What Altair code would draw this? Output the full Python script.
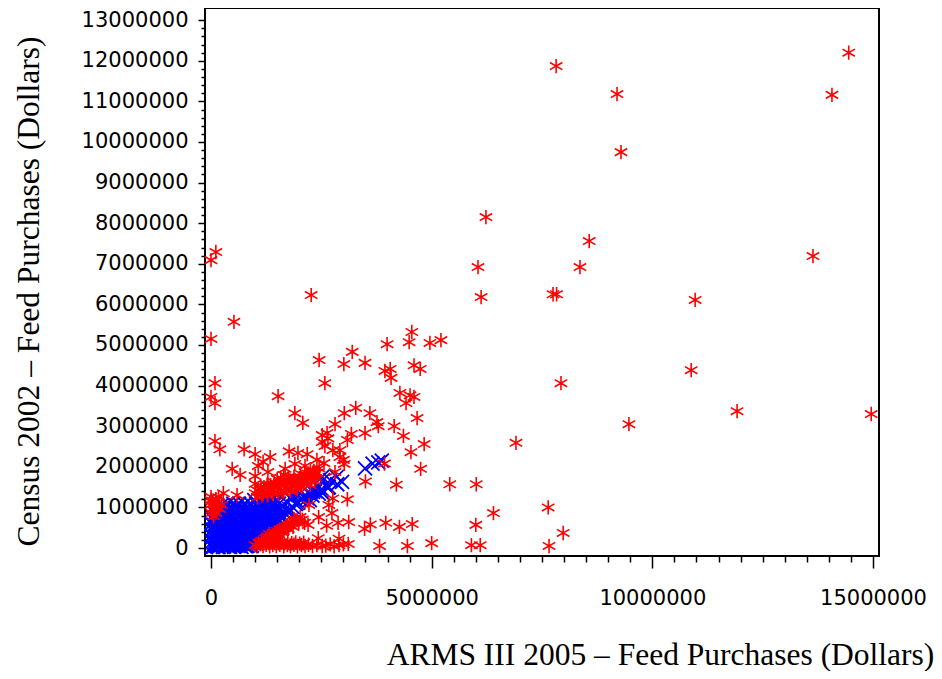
import altair as alt
import pandas as pd

# (ARMS 2005, Census 2002) in thousands of dollars
red_points = [
(14450,12200),(7820,11870),(9200,11180),(14070,11160),(9290,9750),(6230,8150),(8570,7560),(8360,6920),(6050,6920),(13640,7190),
(7750,6250),(7830,6250),(6120,6180),(10970,6110),(2270,6230),(110,7290),(0,7090),(520,5570),(0,5150),(5210,5120),
(4960,5050),(4550,5320),(4490,5070),(3990,5020),(3200,4830),(2450,4630),(3490,4560),(4600,4500),(4740,4410),(3010,4530),
(4060,4410),(3940,4360),(4080,4190),(2580,4060),(90,4060),(7930,4060),(10880,4380),(1520,3740),(0,3720),(90,3570),
(4280,3820),(4510,3760),(4600,3720),(4420,3570),(11920,3370),(14960,3300),(9470,3050),(6910,2590),(1900,3320),(2080,3080),
(3020,3320),(3280,3450),(3600,3320),(3760,3100),(3790,3000),(2810,3050),(4150,3000),(4670,3200),(4360,2760),(2520,2780),
(2630,2830),(2650,2700),(2520,2610),(2580,2510),(2760,2410),(2920,2410),(3090,2660),(3180,2810),(3490,2830),(4830,2560),
(4530,2360),(4750,1950),(90,2630),(200,2430),(750,2430),(1000,2310),(1340,2240),(1770,2380),(1970,2340),(2180,2310),
(2400,2170),(2560,2090),(2920,2240),(3000,2170),(3020,2070),(2810,1870),(480,1950),(660,1800),(1000,1770),(1070,2020),
(1180,2120),(1290,1870),(1680,1950),(1900,2070),(2130,2020),(2130,1800),(1000,1580),(280,1350),(590,1300),(1000,1350),
(1160,1300),(1200,1500),(1350,1550),(1450,1500),(1550,1600),(1700,1480),(1800,1650),(1900,1550),(2000,1700),(2100,1600),
(2200,1750),(2300,1800),(2400,1850),(1500,1700),(1650,1800),(1750,1750),(1300,1450),(1400,1350),(1600,1380),(1800,1400),
(1950,1450),(2050,1500),(2250,1550),(2350,1650),(2350,1830),(3500,1640),(3930,2080),(4200,1560),(5410,1570),(6010,1570),
(0,1180),(60,1100),(150,1000),(30,950),(110,870),(0,1260),(170,1250),(60,780),(2760,1220),(3090,1200),
(2740,860),(2670,1060),(2220,1060),(2440,760),(2200,570),(2120,620),(2620,550),(2880,620),(3120,640),(3480,470),
(3610,580),(3960,620),(4270,520),(4560,590),(7640,1000),(7980,370),(6400,860),(6000,570),(5900,70),(6100,70),
(7660,50),(5000,120),(4450,50),(3820,50),(3110,100),(2430,240),(2900,230),(1000,70),(1050,40),(1120,90),
(1180,50),(1250,80),(1330,40),(1400,70),(1480,50),(1560,80),(1650,40),(1730,70),(1800,50),(1880,80),
(1960,40),(2050,70),(2130,50),(2210,80),(2300,50),(2400,70),(2520,50),(2600,60),(2700,90),(2790,40),
(2900,70),(3000,90),(1150,180),(1240,240),(1320,200),(1400,300),(1320,340),(1450,380),(1530,340),(1560,460),
(1640,420),(1700,520),(1790,570),(1860,520),(1950,690),(2020,760),(1900,640),(1750,470),
(1050,1420),(1130,1470),(1220,1400),(1290,1520),(1370,1440),(1440,1560),(1520,1500),(1590,1580),(1670,1540),(1740,1620),
(1820,1600),(1890,1680),(1970,1640),(2040,1740),(2120,1680),(2190,1780),(2270,1720),(2340,1780),(2180,1700),(2200,1830),
(2260,1720),(2300,1850),(2380,1720),(2330,1900),(2450,1960),(2250,1900),(2030,1830),(1880,1760),(1720,1640),(1580,1730),
(1430,1620),(1270,1560),(1130,1430),
(1050,1250),(1150,1330),(1280,1290),(1400,1330),(1520,1340),(1650,1390),(1800,1450),(1950,1490),
(0,1060),(80,1000),(170,1120),(20,1150),(110,1200),(200,960),(240,1060),(20,860),
(1080,130),(1160,110),(1240,140),(1320,120),(1400,150),(1490,130),(1570,140),(1660,110),(1740,130),(1830,120),(1920,140),(2010,110),(2100,130),
(1210,170),(1280,290),(1370,260),(1480,310),(1500,420),(1610,390),(1660,480),(1740,560),(1820,620),(1880,710),(1990,630),(2070,700),
]

# dense blue cloud near the origin, thousands of dollars
blue_points = [
(20,30),(80,90),(140,40),(200,100),(270,30),(330,90),(400,50),(460,100),(520,30),(590,90),(660,50),(720,100),(790,40),(860,90),(930,60),(960,120),
(40,170),(100,230),(170,160),(230,240),(300,180),(360,230),(430,170),(490,250),(560,190),(620,230),(690,170),(750,240),(820,180),(890,250),(960,190),(1010,240),
(10,310),(70,380),(130,320),(200,380),(260,310),(320,390),(390,330),(450,380),(520,310),(580,390),(650,320),(710,380),(780,340),(850,390),(910,320),(970,390),(1040,330),(1090,390),(1130,340),
(30,460),(90,520),(160,450),(220,530),(290,470),(350,520),(420,450),(480,530),(550,470),(610,520),(680,460),(740,530),(810,480),(870,530),(940,460),(1000,530),(1070,480),(1130,530),(1200,470),(1260,540),(1320,490),
(10,600),(70,670),(140,610),(200,680),(270,600),(330,670),(400,620),(460,680),(530,600),(590,670),(660,620),(720,680),(790,600),(850,670),(920,620),(980,680),(1050,610),(1110,680),(1180,630),(1240,680),(1310,610),(1370,680),(1440,640),(1500,620),
(50,750),(110,820),(180,760),(240,830),(310,740),(370,820),(440,770),(500,830),(570,750),(630,820),(700,770),(760,830),(830,750),(890,820),(960,760),(1020,830),(1090,770),(1150,820),(1220,750),(1280,830),(1350,770),(1410,830),(1480,760),(1560,780),
(120,900),(180,970),(250,890),(310,970),(380,910),(440,980),(510,890),(570,970),(640,910),(700,980),(770,900),(830,970),(900,910),(960,980),(1030,890),(1090,970),(1160,910),(1220,980),(1290,900),(1350,970),(1420,920),(1540,930),
(310,1040),(440,1030),(570,1050),(700,1030),(830,1040),(960,1030),(1090,1050),(1220,1030),(1350,1050),(1430,1060),
(50,30),(110,60),(170,20),(235,70),(300,40),(365,60),(430,30),(495,70),(555,50),(625,70),(690,30),(755,70),(825,50),(895,50),
(60,130),(130,130),(195,150),(265,130),(335,150),(395,130),(465,160),(525,130),(595,150),(655,130),(725,160),(790,130),(855,150),(920,130),(985,150),
(40,270),(100,290),(165,270),(235,300),(295,270),(355,300),(425,280),(485,310),(555,270),(615,310),(685,280),(745,300),(815,270),(875,310),(945,280),(1015,300),(1080,290),
(50,420),(120,420),(185,440),(250,420),(320,440),(385,420),(450,440),(515,420),(580,440),(645,420),(715,440),(775,430),(840,440),(905,420),(975,440),(1035,430),(1105,440),(1165,430),(1235,440),
(60,570),(110,570),(180,560),(250,570),(310,570),(375,560),(440,570),(505,570),(565,560),(635,570),(695,570),(760,560),(830,570),(895,570),(955,560),(1025,570),(1085,560),(1150,570),(1215,570),(1280,570),(1345,560),(1405,570),
(40,720),(100,740),(165,720),(230,730),(295,720),(355,730),(425,720),(485,730),(550,720),(615,730),(675,720),(745,730),(810,720),(870,730),(935,720),(1000,730),(1065,720),(1130,730),(1190,720),(1260,730),(1325,720),(1390,730),(1450,720),(1520,710),
(150,860),(215,860),(280,850),(345,870),(410,850),(475,870),(540,850),(605,870),(670,850),(735,870),(800,850),(865,870),(930,850),(995,870),(1060,850),(1125,870),(1190,850),(1255,870),(1320,850),(1385,870),(1450,860),
(240,1060),(375,1090),(505,1090),(635,1090),(765,1080),(895,1090),(1025,1090),(1155,1080),(1285,1090),(1400,1090),
(1560,680),(1600,760),(1640,900),(1620,1020),(1540,1090),(1500,1180),(1380,1170),(1250,1180),(1120,1170),(980,1180),
(1620,800),(1680,850),(1730,900),(1780,960),(1850,1010),(1920,1080),(1980,1120),(2040,1180),(2100,1250),(2180,1230),
(1790,890),(1950,1110),(1860,1300),(2130,1300),(2310,1380),(2240,1180),(2420,1500),(2520,1360),(2650,1480),(2540,1670),
(2700,1670),(2850,1750),(2970,1630),(2520,1750),(1700,1150),(1820,1200),(1980,1300),(2230,1330),(2300,1290),(2360,1400),
(2440,1340),(2510,1450),(2620,1510),(2510,1380),(2670,1500),(2860,1570),
(3490,1960),(3660,2080),(3790,2110),(3870,2150),
]

x_ticks = [i * 500000 for i in range(31)]
y_ticks = [i * 200000 for i in range(66)]

x_title = "ARMS III 2005 \u2013 Feed Purchases (Dollars)"
y_title = "Census 2002 \u2013 Feed Purchases (Dollars)"

red = pd.DataFrame(red_points, columns=["a", "c"]) * 1000
blue = pd.DataFrame(blue_points, columns=["a", "c"]) * 1000

ASTERISK = "M0,-1L0,1M-0.87,-0.5L0.87,0.5M-0.87,0.5L0.87,-0.5"
CROSS = "M-1,-1L1,1M-1,1L1,-1"

x_enc = alt.X("a:Q", scale=alt.Scale(domain=[-136000, 15136000], nice=False, zero=False),
    axis=alt.Axis(values=x_ticks, title=x_title, titleFont="Liberation Serif", titleFontSize=31.5,
        titleFontWeight="normal", titleColor="black", titleX=455, titleY=108, titleAlign="center", titleBaseline="alphabetic",
        labelFont="DejaVu Sans", labelFontSize=21, labelColor="black", labelPadding=19,
        labelExpr="datum.value % 5000000 == 0 ? format(datum.value, 'd') : ''", labelOverlap=False,
        labelFlush=False, domain=False, grid=False, tickColor="black", tickWidth=1.5,
        tickSize={"condition": {"test": "datum.value % 5000000 == 0", "value": 12}, "value": 6}))
y_enc = alt.Y("c:Q", scale=alt.Scale(domain=[-197000, 13300000], nice=False, zero=False),
    axis=alt.Axis(values=y_ticks, title=y_title, titleFont="Liberation Serif", titleFontSize=31.5,
        titleFontWeight="normal", titleColor="black", titleX=-167, titleY=283, titleAlign="center", titleBaseline="alphabetic",
        labelFont="DejaVu Sans", labelFontSize=21, labelColor="black", labelPadding=10,
        labelExpr="datum.value % 1000000 == 0 ? format(datum.value, 'd') : ''", labelOverlap=False,
        labelFlush=False, domain=False, grid=False, tickColor="black", tickWidth=1.5,
        tickSize={"condition": {"test": "datum.value % 1000000 == 0", "value": 7}, "value": 4}))

blue_layer = alt.Chart(blue).mark_point(shape=CROSS, filled=False, color="#0000ff", strokeWidth=1.8, size=196, opacity=1).encode(x=x_enc, y=y_enc)
red_layer = alt.Chart(red).mark_point(shape=ASTERISK, filled=False, color="#ff0000", strokeWidth=1.6, size=205, opacity=1).encode(x=x_enc, y=y_enc)

chart = (blue_layer + red_layer).properties(
    width=674, height=548, background="white",
    autosize=alt.AutoSizeParams(type="none"),
    padding={"left": 197, "top": 0, "right": 55, "bottom": 115},
).configure_view(stroke="black", strokeWidth=2)

chart.save("out.html", embed_options={"renderer": "svg", "actions": False})
